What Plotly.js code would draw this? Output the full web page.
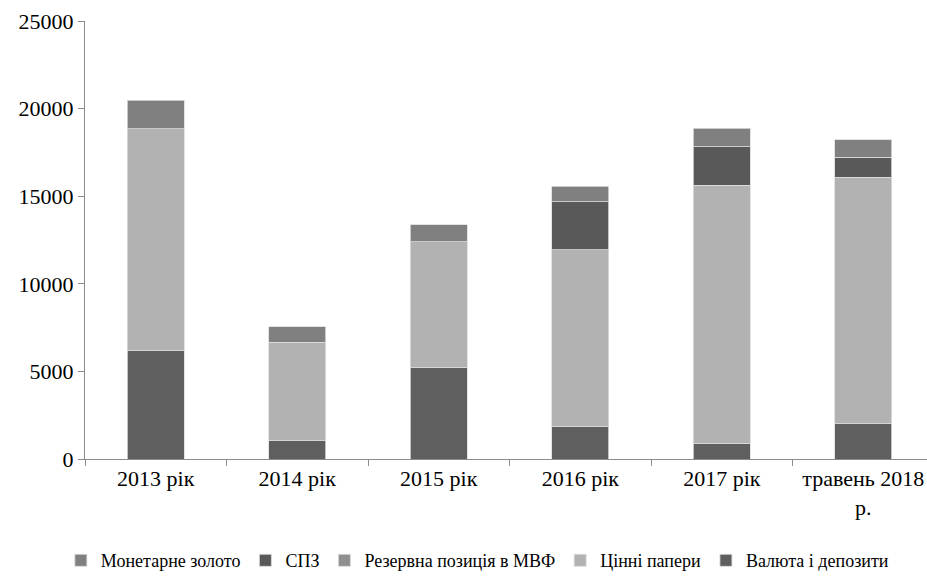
<!DOCTYPE html>
<html>
<head>
<meta charset="utf-8">
<script src="https://cdn.plot.ly/plotly-3.0.1.min.js"></script>
<style>html,body{margin:0;padding:0;background:#fff;}#chart{width:927px;height:577px;}</style>
</head>
<body>
<div id="chart"></div>
<script>
var categories = ["2013 рік", "2014 рік", "2015 рік", "2016 рік", "2017 рік", "травень 2018<br>р."];
var valyuta = [6180, 1040, 5250, 1830, 900, 2020];
var tsinni = [12660, 5620, 7150, 10100, 14720, 14060];
var rezervna = [0, 0, 0, 0, 0, 0];
var spz = [0, 0, 0, 2740, 2210, 1140];
var zoloto = [1630, 890, 960, 910, 1050, 1010];
var yTicks = [0, 5000, 10000, 15000, 20000, 25000];

var names = ["Валюта і депозити", "Цінні папери", "Резервна позиція в МВФ", "СПЗ", "Монетарне золото"];
var series = [valyuta, tsinni, rezervna, spz, zoloto];
var colors = ["#5f5f5f", "#b2b2b2", "#8f8f8f", "#595959", "#808080"];

var traces = series.map(function(v, i) {
  return {
    type: "bar",
    name: names[i],
    x: categories,
    y: v,
    marker: {color: colors[i], line: {color: "#dcdcdc", width: 0.8}},
    hoverinfo: "x+y+name"
  };
});

var fam = "'Liberation Serif', 'Times New Roman', serif";
var font = {family: fam, size: 22, color: "#000"};

var layout = {
  width: 927,
  height: 577,
  margin: {l: 85, r: 0, t: 21, b: 118, autoexpand: false},
  barmode: "stack",
  bargap: 0.595,
  paper_bgcolor: "#fff",
  plot_bgcolor: "#fff",
  font: font,
  showlegend: true,
  legend: {
    orientation: "h",
    traceorder: "reversed",
    x: 0.466, xanchor: "center",
    y: -0.232, yanchor: "middle",
    font: {family: fam, size: 18, color: "#000"},
    itemwidth: 30,
    tracegroupgap: 0
  },
  xaxis: {
    type: "category",
    range: [-0.5, 5.45],
    showline: true,
    linecolor: "#8c8c8c",
    linewidth: 1,
    ticks: "outside",
    tickson: "boundaries",
    ticklen: 6,
    tickcolor: "#8c8c8c",
    showgrid: false,
    zeroline: false,
    tickfont: font
  },
  yaxis: {
    range: [0, 25000],
    tickvals: yTicks,
    ticktext: yTicks.map(String),
    showline: true,
    linecolor: "#8c8c8c",
    linewidth: 1,
    ticks: "outside",
    ticklen: 6,
    tickcolor: "#8c8c8c",
    showgrid: false,
    zeroline: false,
    tickfont: font
  }
};

Plotly.newPlot("chart", traces, layout, {displayModeBar: false, staticPlot: true});
</script>
</body>
</html>
